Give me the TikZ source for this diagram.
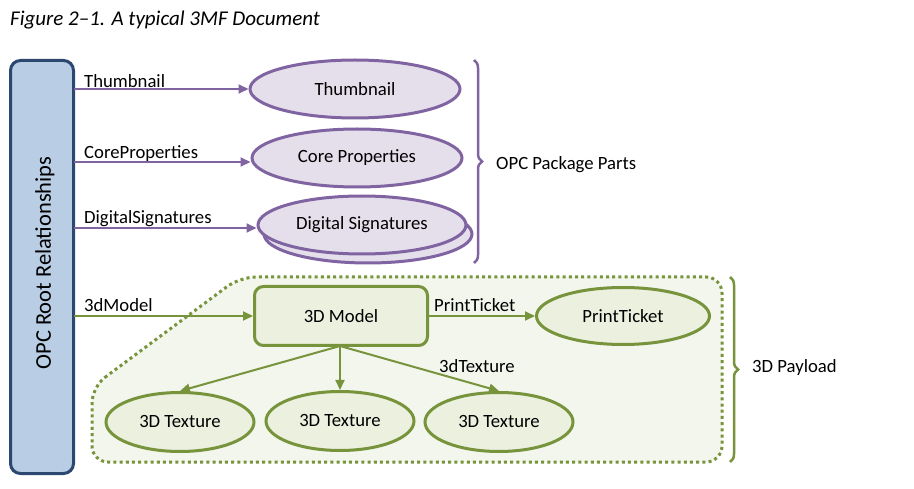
\documentclass[tikz,border=0pt]{standalone}
\usepackage{fontspec}
\setmainfont{Carlito}
\usetikzlibrary{shapes.geometric,arrows.meta,decorations.pathreplacing}
\definecolor{pline}{HTML}{8064A2}
\definecolor{pfill}{HTML}{E5DFEC}
\definecolor{gline}{HTML}{77933C}
\definecolor{gfill}{HTML}{EBF1DE}
\definecolor{gregion}{HTML}{F2F6EC}
\definecolor{bline}{HTML}{2C4770}
\definecolor{bfill}{HTML}{B9CDE5}
\begin{document}
\begin{tikzpicture}[x=1pt,y=-1pt,
  txt/.style={font=\fontsize{18.7}{20}\selectfont},
  pell/.style={ellipse,draw=pline,fill=pfill,line width=3pt,inner sep=0pt,txt},
  gell/.style={ellipse,draw=gline,fill=gfill,line width=3pt,inner sep=0pt,txt},
  parrow/.style={draw=pline,line width=2pt,-{Triangle[length=10pt,width=9pt]}},
  garrow/.style={draw=gline,line width=2pt,-{Triangle[length=10pt,width=9pt]}},
  lbl/.style={txt,anchor=base west,inner sep=0pt},
  bracestyle/.style={decorate,decoration={brace,amplitude=8pt},line width=2.5pt}
]
\useasboundingbox (0,0) rectangle (914,489);

% title
\node[anchor=base west,inner sep=0pt,font=\fontsize{21}{22}\selectfont\itshape] (title) at (10,26) {Figure 2–1. A typical 3MF Document};

% green region
\draw[gline,fill=gregion,line width=3pt,dash pattern=on 3pt off 3.2pt,rounded corners=16pt]
  (92,387) -- (240,277) -- (722,277) -- (722,462) -- (92,462) -- cycle;

% root box
\node[draw=bline,fill=bfill,line width=3pt,rounded corners=10pt,minimum width=63pt,minimum height=413pt,inner sep=0pt] (root) at (42,267) {};
\node[rotate=90,font=\fontsize{22.5}{24}\selectfont,inner sep=0pt] (roottxt) at (45,263) {OPC Root Relationships};

% OPC parts
\node[pell,minimum width=210pt,minimum height=58pt] (thumb) at (355,89) {Thumbnail};
\node[pell,minimum width=210pt,minimum height=58pt] (core) at (357,158) {Core Properties};
\node[pell,minimum width=208pt,minimum height=58pt] (sigback) at (368,234) {};
\node[pell,minimum width=208pt,minimum height=58pt] (sig) at (362,225) {Digital Signatures};

\coordinate (s1) at (74,89);
\coordinate (s2) at (74,162);
\coordinate (s3) at (74,228);
\coordinate (s4) at (74,316);
\draw[parrow] (s1) -- (thumb.west |- s1);
\draw[parrow] (s2) -- (core.west |- s2);
\draw[parrow] (s3) -- (sig.west |- s3);
\node[lbl] (l1) at (84,88) {Thumbnail};
\node[lbl] (l2) at (84,159) {CoreProperties};
\node[lbl] (l3) at (84,224) {DigitalSignatures};

% payload
\node[draw=gline,fill=gfill,line width=3pt,rounded corners=9pt,minimum width=173pt,minimum height=59pt,inner sep=0pt,txt] (model) at (341,316) {3D Model};
\node[gell,minimum width=173pt,minimum height=57pt] (pt) at (623,316) {PrintTicket};
\node[gell,minimum width=148pt,minimum height=59pt] (t1) at (180,422) {3D Texture};
\node[gell,minimum width=148pt,minimum height=59pt] (t2) at (340,421) {3D Texture};
\node[gell,minimum width=148pt,minimum height=59pt] (t3) at (499,422) {3D Texture};

\draw[garrow] (s4) -- (model.west |- s4);
\node[lbl] (l4) at (84,312) {3dModel};
\draw[garrow] (model.east) -- (pt.west);
\node[lbl] (l5) at (434,312) {PrintTicket};
\coordinate (mb) at (340,346);
\draw[garrow] (mb) -- (t1.north);
\draw[garrow] (mb) -- (t2.north);
\draw[garrow] (mb) -- (t3.north);
\node[lbl] (l6) at (439,373) {3dTexture};

% braces
\draw[pline,bracestyle] (474,60) -- (474,263);
\node[txt,anchor=west,inner sep=0pt] (opcparts) at (496,165) {OPC Package Parts};
\draw[gline,bracestyle] (730,277) -- (730,462);
\node[txt,anchor=west,inner sep=0pt] (payload) at (752,368) {3D Payload};
\end{tikzpicture}
\end{document}
